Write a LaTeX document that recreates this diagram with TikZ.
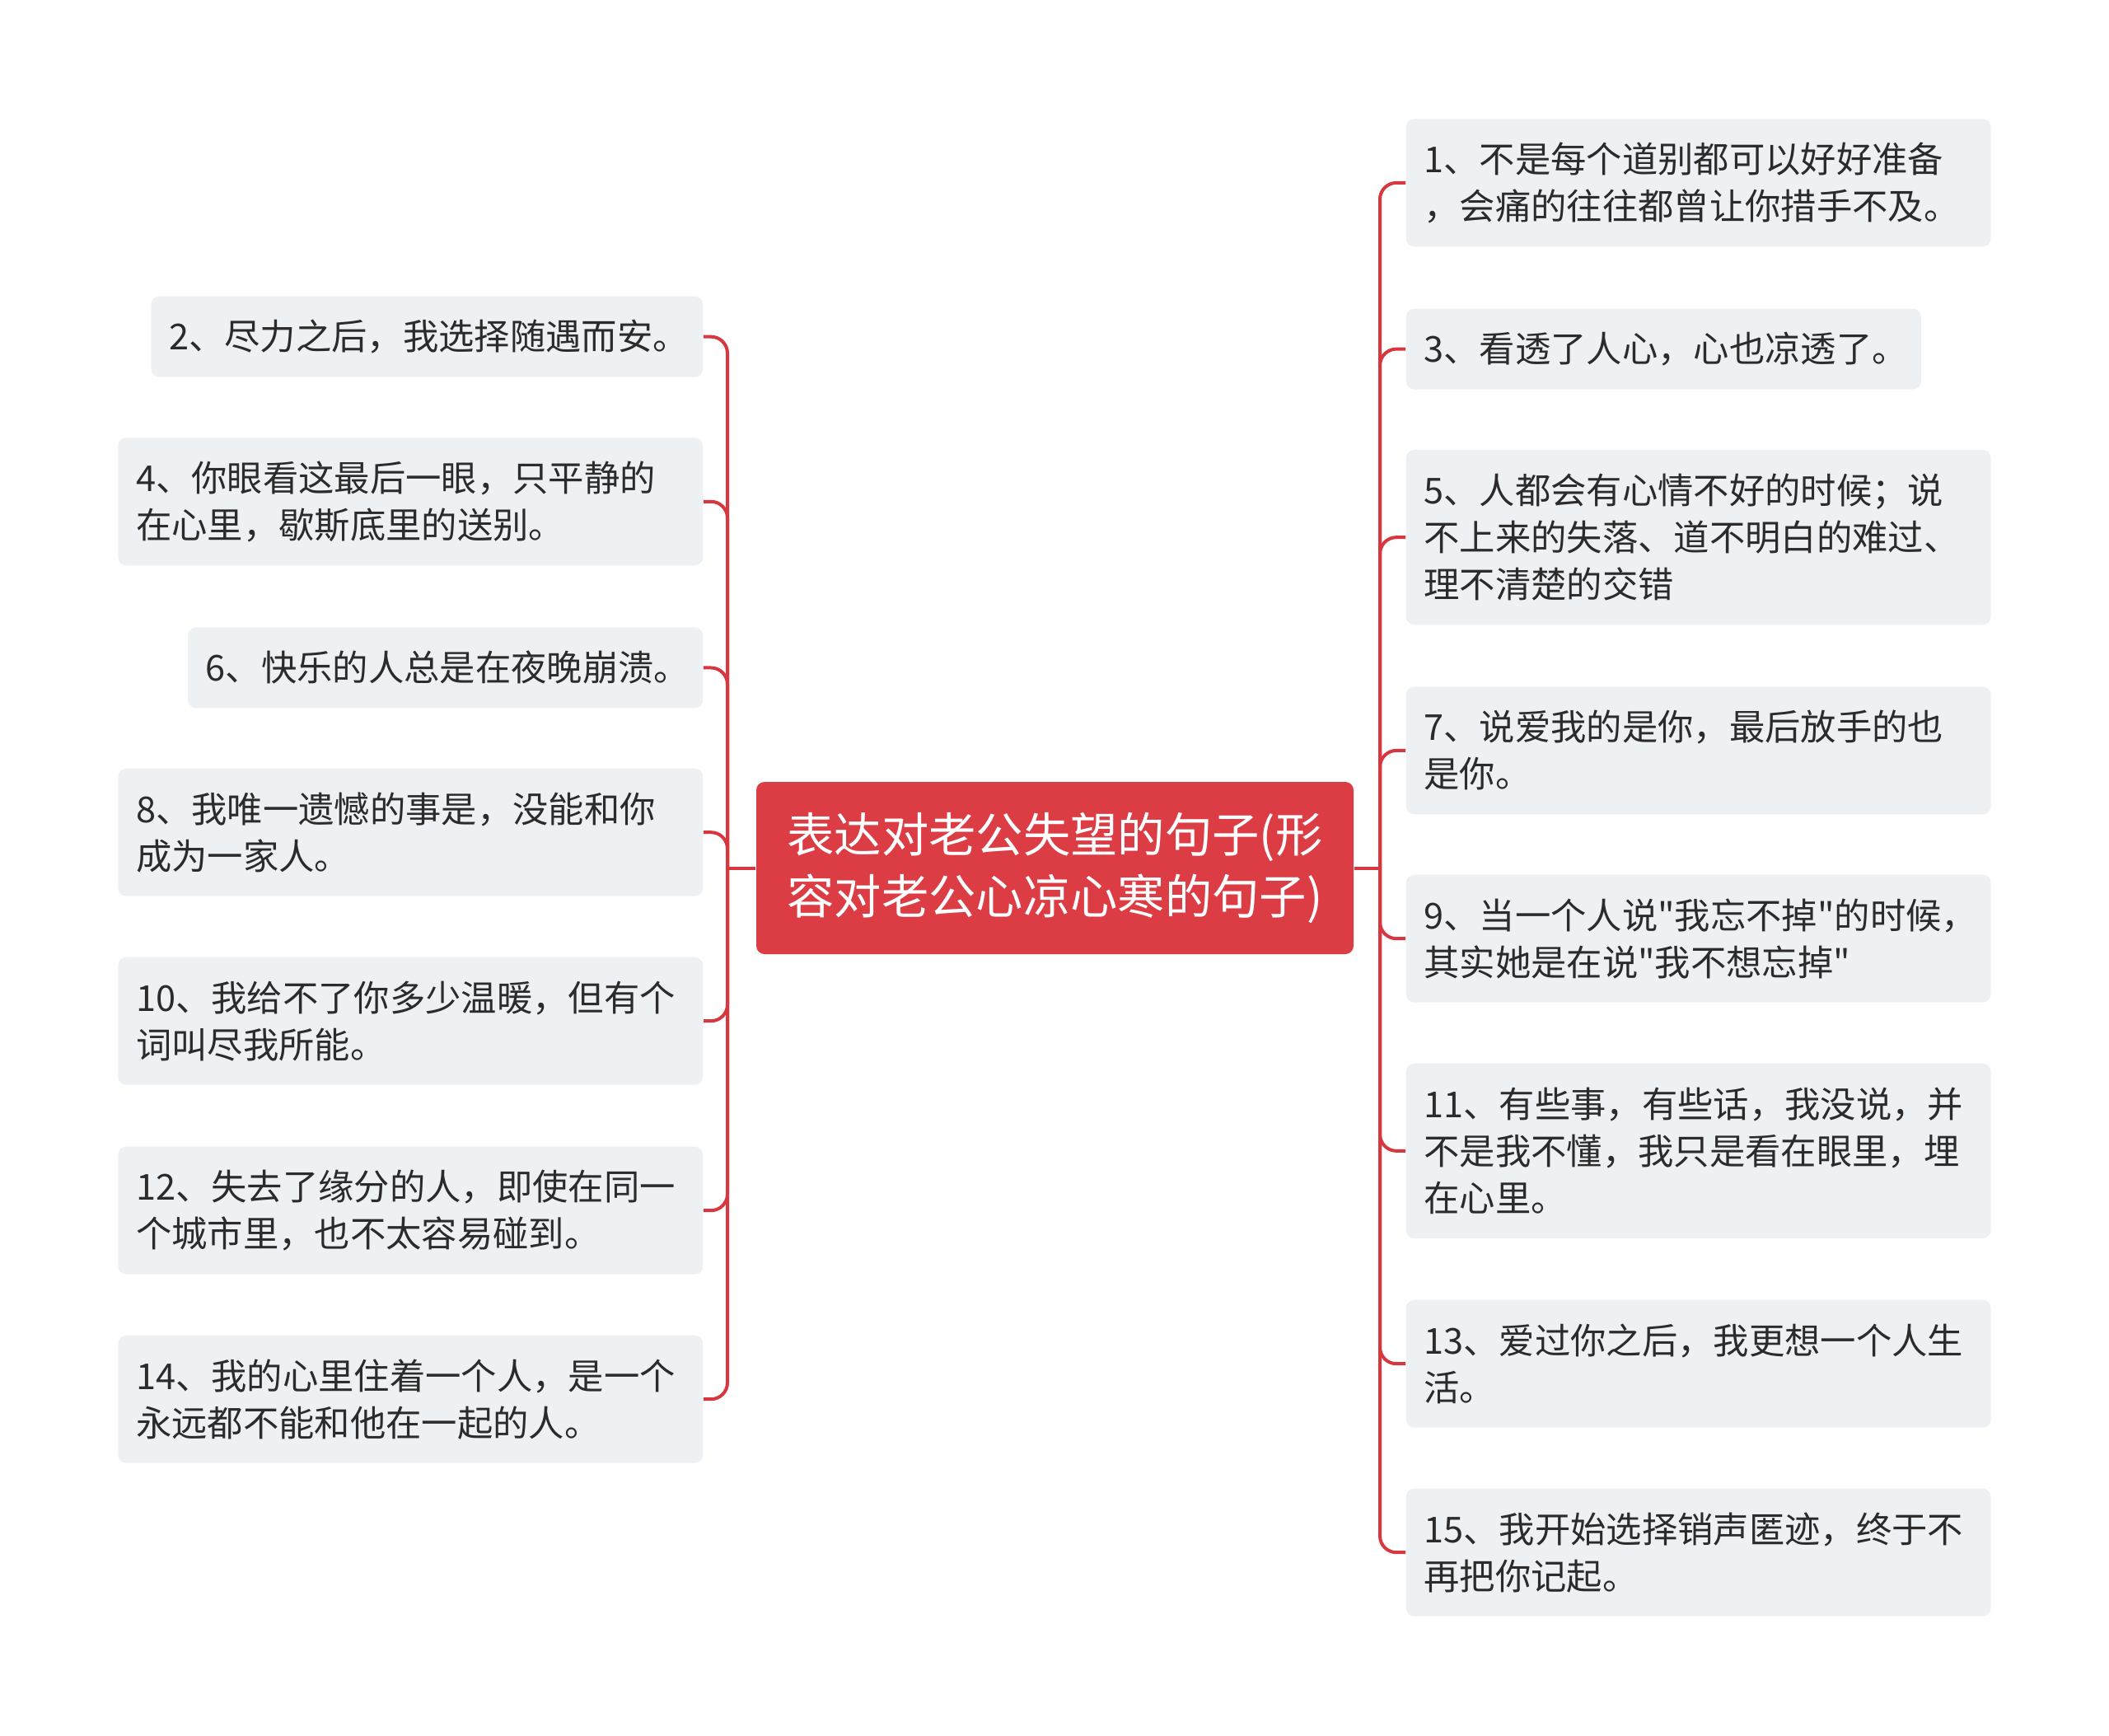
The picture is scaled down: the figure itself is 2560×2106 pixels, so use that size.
\documentclass[tikz,border=0pt]{standalone}
\usepackage{fontspec}
\newfontfamily\cjk{Noto Sans CJK SC}
\definecolor{linkred}{HTML}{D8373F}
\definecolor{rootred}{HTML}{DC3D45}
\definecolor{leaffill}{HTML}{EEF1F4}
\definecolor{leaftext}{HTML}{2B2B2B}
\begin{document}
\begin{tikzpicture}[x=0.3pt,y=-0.3pt,
  leaf/.style={fill=leaffill, rounded corners=3pt, font=\cjk\fontsize{13pt}{17.1pt}\selectfont, text=leaftext, inner xsep=6.5pt, inner ysep=0pt, align=left},
  wide/.style={leaf, text width=200pt, minimum width=213pt},
  root/.style={fill=rootred, rounded corners=3pt, text=white, font=\cjk\fontsize{17.2pt}{22.5pt}\selectfont, align=center, minimum width=217.5pt, minimum height=62.7pt, inner sep=0pt},
  link/.style={draw=linkred, line width=1.2pt, rounded corners=6pt}]
\useasboundingbox (0,0) rectangle (2560,2106);

\node[root] (root) at (1280.5,1053.5) {表达对老公失望的句子(形\\容对老公心凉心寒的句子)};

% left side
\node[leaf, anchor=north east, text width=188pt, minimum width=201pt, minimum height=29.4pt] (n2) at (854,359) {2、尽力之后，我选择随遇而安。};
\node[wide, anchor=north east, minimum height=46.5pt] (n4) at (854,530.6) {4、你眼看这最后一眼，只平静的\\在心里，歇斯底里的送别。};
\node[leaf, anchor=north east, text width=174.6pt, minimum width=187.6pt, minimum height=29.4pt] (n6) at (854,760.8) {6、快乐的人总是在夜晚崩溃。};
\node[wide, anchor=north east, minimum height=46.5pt] (n8) at (854,932) {8、我唯一遗憾的事是，没能和你\\成为一家人。};
\node[wide, anchor=north east, minimum height=46.5pt] (n10) at (854,1161) {10、我给不了你多少温暖，但有个\\词叫尽我所能。};
\node[wide, anchor=north east, minimum height=46.5pt] (n12) at (854,1391) {12、失去了缘分的人，即使在同一\\个城市里，也不太容易碰到。};
\node[wide, anchor=north east, minimum height=46.5pt] (n14) at (854,1620) {14、我的心里住着一个人，是一个\\永远都不能和他在一起的人。};

% right side
\node[wide, anchor=north west, minimum height=46.5pt] (n1) at (1706,143.7) {1、不是每个道别都可以好好准备\\，会痛的往往都曾让你措手不及。};
\node[leaf, anchor=north west, text width=174.6pt, minimum width=187.6pt, minimum height=29.4pt] (n3) at (1706,373.9) {3、看透了人心，心也凉透了。};
\node[wide, anchor=north west, minimum height=63.7pt] (n5) at (1706,545.3) {5、人都会有心情不好的时候；说\\不上来的失落、道不明白的难过、\\理不清楚的交错};
\node[wide, anchor=north west, minimum height=46.5pt] (n7) at (1706,832.7) {7、说爱我的是你，最后放手的也\\是你。};
\node[wide, anchor=north west, minimum height=46.5pt] (n9) at (1706,1061) {9、当一个人说"我忘不掉"的时候，\\其实她是在说"我不想忘掉"};
\node[wide, anchor=north west, minimum height=63.7pt] (n11) at (1706,1290) {11、有些事，有些话，我没说，并\\不是我不懂，我只是看在眼里，埋\\在心里。};
\node[wide, anchor=north west, minimum height=46.5pt] (n13) at (1706,1577) {13、爱过你之后，我更想一个人生\\活。};
\node[wide, anchor=north west, minimum height=46.5pt] (n15) at (1706,1806) {15、我开始选择销声匿迹，终于不\\再把你记起。};

% connectors
\coordinate (lj) at (883,1053.5);
\coordinate (rj) at (1675,1053.5);
\draw[link] (root.west) -- (lj);
\draw[link] (root.east) -- (rj);
\foreach \n in {n2,n4,n6,n8,n10,n12,n14} \draw[link] (lj) |- (\n.east);
\foreach \n in {n1,n3,n5,n7,n9,n11,n13,n15} \draw[link] (rj) |- (\n.west);
\end{tikzpicture}
\end{document}
